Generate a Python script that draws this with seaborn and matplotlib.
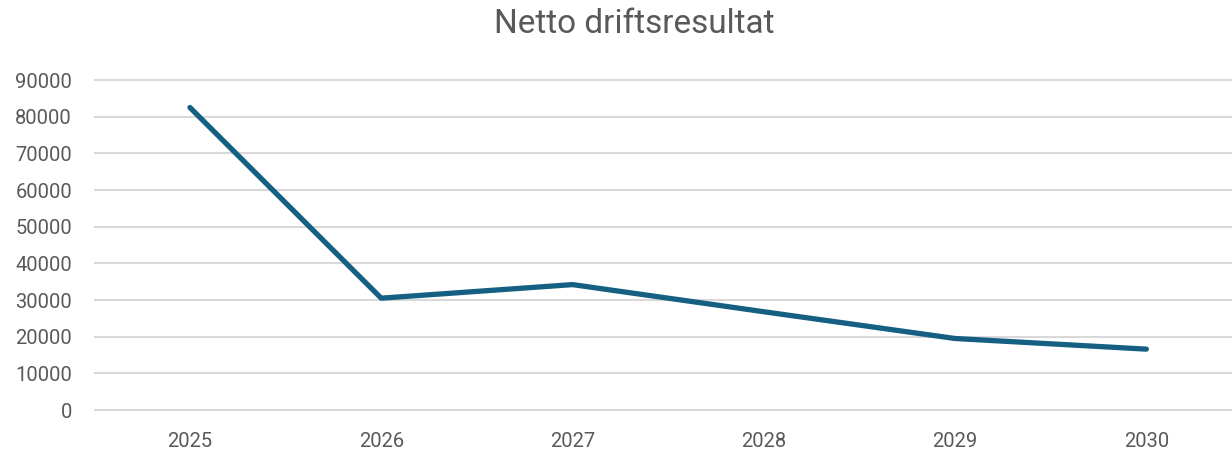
import matplotlib
matplotlib.use("Agg")
import matplotlib.pyplot as plt
import seaborn as sns
import pandas as pd

years = ["2025", "2026", "2027", "2028", "2029", "2030"]
values = [82500, 30500, 34200, 26800, 19500, 16600]
yticks = [0, 10000, 20000, 30000, 40000, 50000, 60000, 70000, 80000, 90000]
title = "Netto driftsresultat"

sns.set_theme(style="white")
plt.rcParams["font.family"] = ["Roboto", "DejaVu Sans"]

df = pd.DataFrame({"year": years, "value": values})

fig = plt.figure(figsize=(12.32, 4.51), dpi=100)
ax = fig.add_axes([94.3 / 1232, 37.33 / 451, (1242 - 94.3) / 1232, 0.7561])

sns.lineplot(data=df, x="year", y="value", ax=ax, color="#156082",
             linewidth=3.8, solid_capstyle="round", solid_joinstyle="round",
             zorder=3)

ax.set_xlim(-0.5, len(years) - 0.5)
ax.set_ylim(-1000, 92000)
ax.set_yticks(yticks)
ax.set_yticklabels([str(v) for v in yticks])
ax.yaxis.grid(True, color="#D9D9D9", linewidth=1.5)
ax.xaxis.grid(False)
for s in ax.spines.values():
    s.set_visible(False)
ax.tick_params(axis="both", length=0, labelsize=14.5, labelcolor="#595959")
ax.tick_params(axis="y", pad=16)
ax.tick_params(axis="x", pad=13)
ax.set_xlabel("")
ax.set_ylabel("")

fig.text(634 / 1232, 1 - 24 / 451, title, ha="center", va="center",
         fontsize=24, color="#595959")

fig.savefig("out.png", dpi=100)
